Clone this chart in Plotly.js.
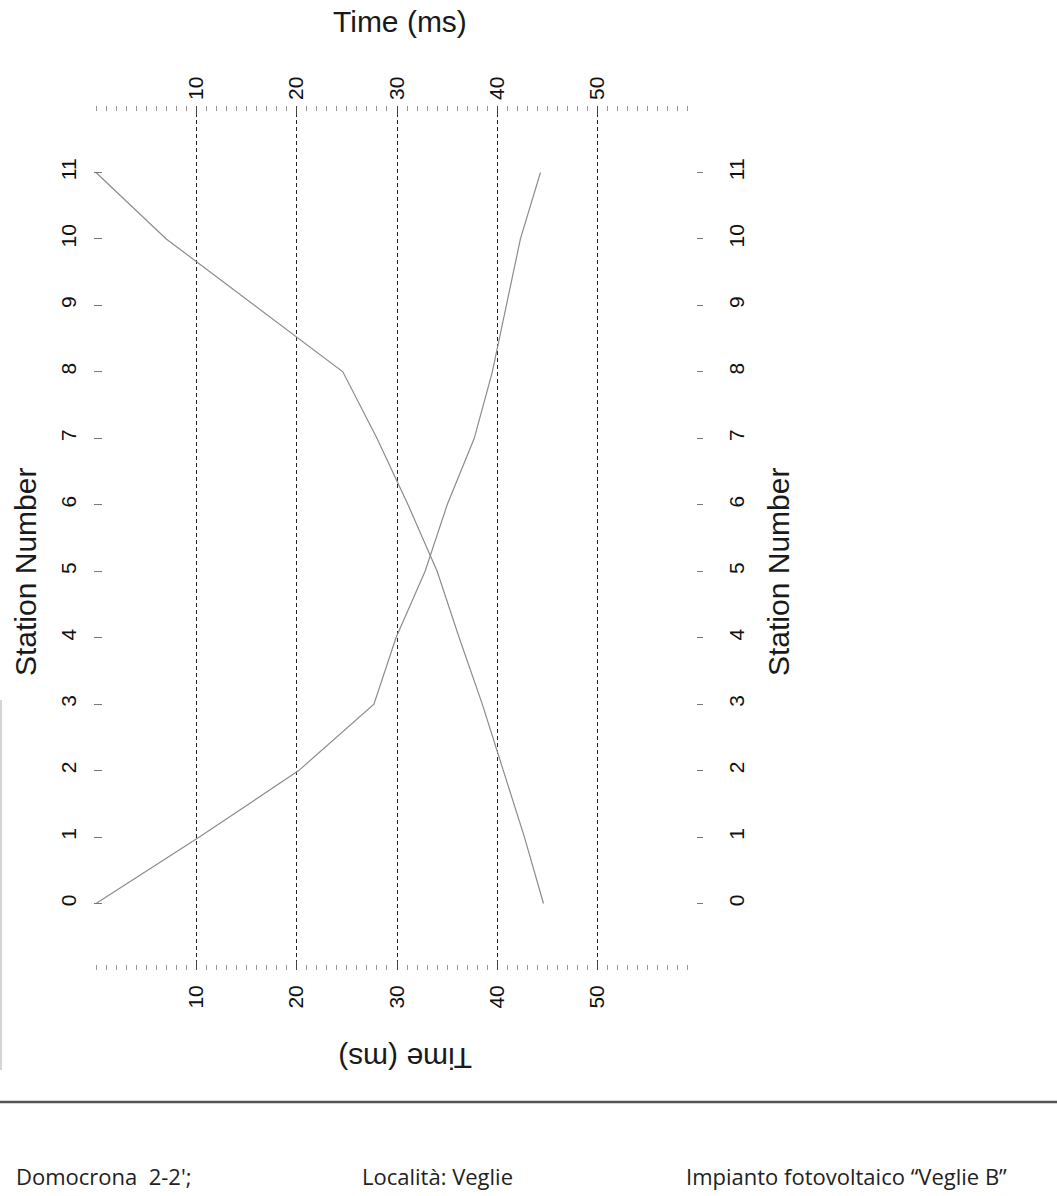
<!DOCTYPE html>
<html>
<head>
<meta charset="utf-8">
<script src="https://cdn.plot.ly/plotly-3.0.1.min.js"></script>
<style>html,body{margin:0;padding:0;background:#fff;}#chart{width:1057px;height:1196px;}</style>
</head>
<body>
<div id="chart"></div>
<script>
// Data
const stations = [0,1,2,3,4,5,6,7,8,9,10,11];
const timeDirect = [44.6, 42.7, 40.6, 38.5, 36.2, 34.0, 31.1, 28.0, 24.6, 15.8, 7.0, 0.0];
const timeReverse = [0.0, 10.3, 20.2, 27.7, 29.9, 32.8, 35.0, 37.7, 39.5, 40.9, 42.3, 44.3];
const timeTickVals = [10, 20, 30, 40, 50];
const timeTickText = ['10', '20', '30', '40', '50'];
const stationTickText = ['0','1','2','3','4','5','6','7','8','9','10','11'];
const xTitle = 'Time (ms)';
const yTitle = 'Station Number';
const footer = ["Domocrona  2-2';", 'Località: Veglie', 'Impianto fotovoltaico “Veglie B”'];

const W = 1057, H = 1196;
const L = 94, R = 696, T = 106, B = 970;
const px = v => (v - L) / (R - L);
const py = v => (B - v) / (B - T);

const lineStyle = {color: '#8c8c8c', width: 1.2};
const traces = [
  {x: timeDirect, y: stations, mode: 'lines', line: lineStyle, hoverinfo: 'skip', showlegend: false},
  {x: timeReverse, y: stations, mode: 'lines', line: lineStyle, hoverinfo: 'skip', showlegend: false},
  {x: timeReverse, y: stations, xaxis: 'x2', yaxis: 'y2', mode: 'lines',
   line: {color: 'rgba(0,0,0,0)', width: 0}, hoverinfo: 'skip', showlegend: false}
];

const tickFont = {family: 'Liberation Sans, Arial, sans-serif', size: 21, color: '#111'};
const titleFont = {family: 'Liberation Sans, Arial, sans-serif', size: 30, color: '#1a1a1a'};
const footFont = {family: 'Open Sans, sans-serif', size: 22, color: '#222'};

const xCommon = {
  range: [-0.2, 59.8], tickmode: 'array', tickvals: timeTickVals, ticktext: timeTickText,
  tickangle: -90, tickfont: tickFont, ticks: 'inside', ticklen: 9, tickcolor: '#444', tickwidth: 1,
  minor: {dtick: 1, ticks: 'inside', ticklen: 5, tickcolor: '#999', tickwidth: 1, showgrid: false},
  showline: false, zeroline: false, fixedrange: true
};
const yCommon = {
  range: [-1, 12], tickmode: 'array', tickvals: stations, ticktext: stationTickText,
  tickangle: -90, tickfont: tickFont, showgrid: false, showline: false, zeroline: false,
  tickcolor: '#777', tickwidth: 1, fixedrange: true
};

const layout = {
  width: W, height: H,
  margin: {l: L, r: W - R, t: T, b: H - B, pad: 0},
  paper_bgcolor: '#fff', plot_bgcolor: '#fff',
  showlegend: false,
  xaxis: Object.assign({}, xCommon, {side: 'bottom', showgrid: true, gridcolor: '#222',
    gridwidth: 1, griddash: '4px,3px', ticklabelstandoff: 10}),
  xaxis2: Object.assign({}, xCommon, {side: 'top', overlaying: 'x', matches: 'x', showgrid: false,
    ticklabelstandoff: 5}),
  yaxis: Object.assign({}, yCommon, {side: 'left', ticks: 'inside', ticklen: 8, ticklabelstandoff: 13}),
  yaxis2: Object.assign({}, yCommon, {side: 'right', overlaying: 'y', matches: 'y', ticks: 'outside',
    ticklen: 6, ticklabelstandoff: 16}),
  annotations: [
    {text: xTitle, xref: 'paper', yref: 'paper', x: px(400), y: py(22), showarrow: false,
     font: titleFont, xanchor: 'center', yanchor: 'middle'},
    {text: xTitle, xref: 'paper', yref: 'paper', x: px(405), y: py(1059), showarrow: false,
     font: titleFont, textangle: 180, xanchor: 'center', yanchor: 'middle'},
    {text: yTitle, xref: 'paper', yref: 'paper', x: px(25), y: py(572), showarrow: false,
     font: titleFont, textangle: -90, xanchor: 'center', yanchor: 'middle'},
    {text: yTitle, xref: 'paper', yref: 'paper', x: px(778), y: py(572), showarrow: false,
     font: titleFont, textangle: -90, xanchor: 'center', yanchor: 'middle'},
    {text: footer[0], xref: 'paper', yref: 'paper', x: px(14), y: py(1176), showarrow: false,
     font: footFont, xanchor: 'left', yanchor: 'middle'},
    {text: footer[1], xref: 'paper', yref: 'paper', x: px(360), y: py(1176), showarrow: false,
     font: footFont, xanchor: 'left', yanchor: 'middle'},
    {text: footer[2], xref: 'paper', yref: 'paper', x: px(684), y: py(1176), showarrow: false,
     font: footFont, xanchor: 'left', yanchor: 'middle'}
  ],
  shapes: [
    {type: 'line', xref: 'paper', yref: 'paper', x0: px(0), x1: px(W), y0: py(1102), y1: py(1102),
     line: {color: '#555', width: 2.5}},
    {type: 'line', xref: 'paper', yref: 'paper', x0: px(1), x1: px(1), y0: py(700), y1: py(1070),
     line: {color: '#aaa', width: 1}}
  ]
};

Plotly.newPlot('chart', traces, layout, {staticPlot: true, displayModeBar: false});
</script>
</body>
</html>
